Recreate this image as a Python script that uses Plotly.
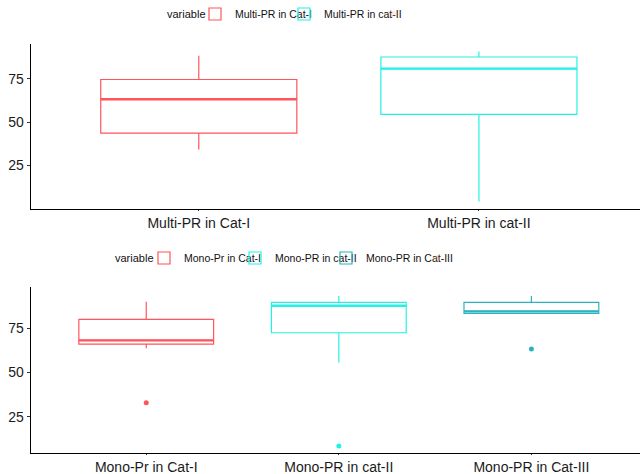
import plotly.graph_objects as go

# ---- data ----
top_cats = ["Multi-PR in Cat-I", "Multi-PR in cat-II"]
top_q1 = [43.6, 54.4]
top_median = [63.2, 80.9]
top_q3 = [74.6, 87.6]
top_low = [34.1, 4.1]
top_high = [88.3, 90.8]

bot_cats = ["Mono-Pr in Cat-I", "Mono-PR in cat-II", "Mono-PR in Cat-III"]
bot_q1 = [66.1, 72.5, 83.5]
bot_median = [68.2, 87.8, 84.6]
bot_q3 = [80.1, 89.7, 89.7]
bot_low = [63.7, 55.6, 83.2]
bot_high = [90.0, 93.3, 93.3]
bot_outliers = [[32.9], [8.4], [63.3]]

legend_title = "variable"

top_colors = ["#FF5459", "#22F2E4"]
bot_colors = ["#FF5459", "#22F2E4", "#2DB3BF"]

FONT = "Liberation Sans, Arial, sans-serif"
W, H = 640, 474

fig = go.Figure()

def add_panel(cats, q1, med, q3, lo, hi, colors, xa, ya, legend, outliers=None):
    for i, c in enumerate(cats):
        fig.add_trace(go.Box(
            x=[c], q1=[q1[i]], median=[med[i]], q3=[q3[i]],
            lowerfence=[lo[i]], upperfence=[hi[i]],
            name=c, width=0.7, whiskerwidth=0,
            line=dict(color=colors[i], width=1.2),
            fillcolor="rgba(255,255,255,0)",
            xaxis=xa, yaxis=ya, legend=legend, showlegend=True,
            hoverinfo="skip",
        ))
        # thicker median line
        fig.add_trace(go.Box(
            x=[c], q1=[med[i]], median=[med[i]], q3=[med[i]],
            lowerfence=[med[i]], upperfence=[med[i]],
            width=0.7, whiskerwidth=0,
            line=dict(color=colors[i], width=2.4),
            fillcolor="rgba(255,255,255,0)",
            xaxis=xa, yaxis=ya, showlegend=False, hoverinfo="skip",
        ))
        if outliers is not None and outliers[i]:
            fig.add_trace(go.Scatter(
                x=[c] * len(outliers[i]), y=outliers[i], mode="markers",
                marker=dict(color=colors[i], size=5),
                xaxis=xa, yaxis=ya, showlegend=False, hoverinfo="skip",
            ))
    # invisible spacer entry so the last legend label is not clipped
    fig.add_trace(go.Scatter(
        x=[None], y=[None], mode="markers", name=" ",
        marker=dict(opacity=0), xaxis=xa, yaxis=ya,
        legend=legend, showlegend=True, hoverinfo="skip",
    ))

add_panel(top_cats, top_q1, top_median, top_q3, top_low, top_high,
          top_colors, "x", "y", "legend")
add_panel(bot_cats, bot_q1, bot_median, bot_q3, bot_low, bot_high,
          bot_colors, "x2", "y2", "legend2", bot_outliers)

x0 = 30.7 / W
axis_common = dict(showline=True, linecolor="black", linewidth=1,
                   showgrid=False, zeroline=False, ticks="outside",
                   tickcolor="#333333", automargin=False,
                   tickfont=dict(family=FONT, size=14, color="#1a1a1a"))

legend_common = dict(orientation="h", xanchor="left", yanchor="middle",
                     font=dict(family=FONT, size=10.5, color="#111111"),
                     bgcolor="rgba(0,0,0,0)", itemwidth=30,
                     tracegroupgap=0, borderwidth=0)

fig.update_layout(
    width=W, height=H,
    margin=dict(l=0, r=0, t=0, b=0, autoexpand=False),
    paper_bgcolor="white", plot_bgcolor="white",
    boxmode="overlay",
    font=dict(family=FONT, color="black"),
    xaxis=dict(domain=[x0, 1], anchor="y", type="category",
               categoryorder="array", categoryarray=top_cats,
               range=[-0.6, 1.575], ticklen=1, **axis_common),
    yaxis=dict(domain=[1 - 209 / H, 1 - 44 / H], anchor="x",
               range=[-0.2, 95.1], tickvals=[25, 50, 75], ticklen=3,
               **axis_common),
    xaxis2=dict(domain=[x0, 1], anchor="y2", type="category",
                categoryorder="array", categoryarray=bot_cats,
                range=[-0.6, 2.564], ticklen=1, **axis_common),
    yaxis2=dict(domain=[1 - 453.3 / H, 1 - 287.3 / H], anchor="x2",
                range=[4.3, 98.2], tickvals=[25, 50, 75], ticklen=3,
                **axis_common),
    legend=dict(x=(217 - 22) / W, y=1 - 14 / H, entrywidth=44,
                **legend_common),
    legend2=dict(x=(166 - 22) / W, y=1 - 258 / H, entrywidth=46,
                 **legend_common),
    annotations=[
        dict(text=legend_title, x=165 / W, y=1 - 14 / H, xref="paper",
             yref="paper", xanchor="left", yanchor="middle", showarrow=False,
             font=dict(family=FONT, size=11, color="#111111")),
        dict(text=legend_title, x=113 / W, y=1 - 258 / H, xref="paper",
             yref="paper", xanchor="left", yanchor="middle", showarrow=False,
             font=dict(family=FONT, size=11, color="#111111")),
    ],
)

fig.write_html("out.html",
               config={"displayModeBar": False},
               post_script="document.body.style.margin='0px';")
